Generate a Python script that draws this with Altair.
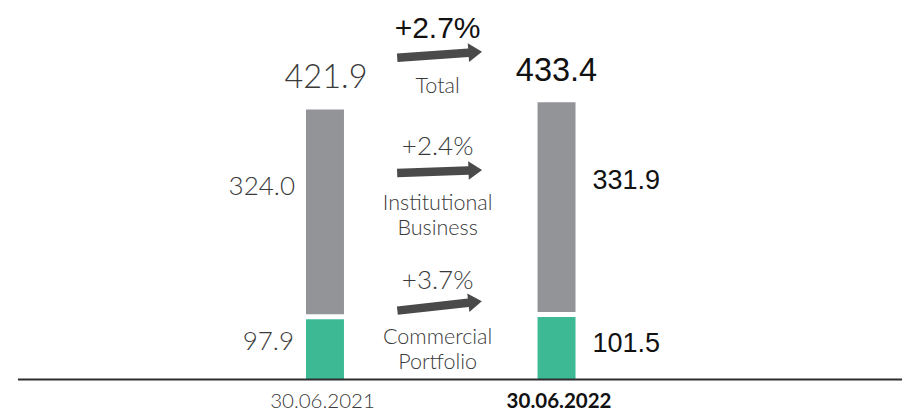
import altair as alt
import pandas as pd

# ---------------- data ----------------
dates = ["30.06.2021", "30.06.2022"]
commercial = [97.9, 101.5]
institutional = [324.0, 331.9]
totals = [421.9, 433.4]
growth = ["+2.7%", "+2.4%", "+3.7%"]
segments = ["Total", "Institutional\nBusiness", "Commercial\nPortfolio"]

# ---------------- layout ----------------
W, H = 894, 404
POS = [0, 1]                    # bar slots on the x scale
HALF = 0.082                    # half bar width (x units)
X_DOMAIN = [-1.369, 2.492]
Y_DOMAIN = [-50.78, 580.5]
LINE_START = -1.326
ARROW_X = 0.495
ARROW_Y = [507.5, 325, 115]     # vertical placement of the three change arrows
ARROW_ANGLE = [356, 358, 353.6]
ARROW = "M-1,-0.1L0.68,-0.1L0.68,-0.22L1,0L0.68,0.22L0.68,0.1L-1,0.1Z"

GRAY = "#939498"
GREEN = "#3dba94"
DARK = "#3a3a3a"

xs = alt.Scale(domain=X_DOMAIN, nice=False, zero=False)
ys = alt.Scale(domain=Y_DOMAIN, nice=False, zero=False)

rows = []
for i, p in enumerate(POS):
    rows.append(dict(pos=p, xl=p - HALF, xr=p + HALF, y0=0, y1=commercial[i], seg="Commercial"))
    rows.append(dict(pos=p, xl=p - HALF, xr=p + HALF, y0=commercial[i], y1=totals[i], seg="Institutional"))
bars_df = pd.DataFrame(rows)

bars = alt.Chart(bars_df).mark_rect().encode(
    x=alt.X("xl:Q", scale=xs, axis=None),
    x2="xr:Q",
    y=alt.Y("y0:Q", scale=ys, axis=None),
    y2="y1:Q",
    color=alt.Color("seg:N", scale=alt.Scale(domain=["Commercial", "Institutional"], range=[GREEN, GRAY]), legend=None),
)

gap_df = pd.DataFrame(dict(xl=[p - HALF - 0.01 for p in POS], xr=[p + HALF + 0.01 for p in POS], y=commercial))
gaps = alt.Chart(gap_df).mark_rule(color="white", strokeWidth=5).encode(
    x=alt.X("xl:Q", scale=xs, axis=None), x2="xr:Q", y=alt.Y("y:Q", scale=ys, axis=None)
)

base_df = pd.DataFrame(dict(x=[LINE_START], x2=[X_DOMAIN[1]], y=[0]))
baseline = alt.Chart(base_df).mark_rule(color="#2e2e2e", strokeWidth=2).encode(
    x=alt.X("x:Q", scale=xs, axis=None), x2="x2:Q", y=alt.Y("y:Q", scale=ys, axis=None)
)

arrow_df = pd.DataFrame(dict(x=[ARROW_X] * 3, y=ARROW_Y, ang=ARROW_ANGLE, g=growth, s=segments))
arrows = alt.Chart(arrow_df).mark_point(
    shape=ARROW, filled=True, size=7225, color="#4a4a4a", opacity=1, strokeWidth=0
).encode(
    x=alt.X("x:Q", scale=xs, axis=None),
    y=alt.Y("y:Q", scale=ys, axis=None),
    angle=alt.Angle("ang:Q", scale=None),
)


def txt(df, xcol, ycol, tcol, **kw):
    return alt.Chart(df).mark_text(**kw).encode(
        x=alt.X(f"{xcol}:Q", scale=xs, axis=None),
        y=alt.Y(f"{ycol}:Q", scale=ys, axis=None),
        text=f"{tcol}:N",
    )


first = arrow_df.iloc[[0]]
rest = arrow_df.iloc[1:]
g_total = txt(first, "x", "y", "g", font="Liberation Sans", fontSize=30, color="#111",
              baseline="alphabetic", dy=-16.5, dx=-2)
g_rest = txt(rest, "x", "y", "g", font="Lato", fontWeight=300, fontSize=26, color=DARK,
             baseline="alphabetic", dy=-16.5, dx=-2)
seg_lbl = txt(arrow_df, "x", "y", "s", font="Lato", fontWeight=300, fontSize=21.5, color=DARK,
              baseline="alphabetic", dy=38.5, dx=-2, lineBreak="\n", lineHeight=25)

lab_df = pd.DataFrame(dict(
    pos=POS,
    total=totals,
    gmid=[c + i / 2 for c, i in zip(commercial, institutional)],
    cmid=[c / 2 for c in commercial],
    tl=[f"{v:.1f}" for v in totals],
    il=[f"{v:.1f}" for v in institutional],
    cl=[f"{v:.1f}" for v in commercial],
    d=dates,
    zero=[0, 0],
))
l21 = lab_df.iloc[[0]]
l22 = lab_df.iloc[[1]]

light = dict(font="Lato", fontWeight=300, color=DARK, baseline="alphabetic")
sans = dict(font="Liberation Sans", color="#111", baseline="alphabetic")

layers = [
    bars, gaps, baseline, arrows, g_total, g_rest, seg_lbl,
    txt(l21, "pos", "total", "tl", fontSize=32.5, dy=-21, dx=1, **light),
    txt(l22, "pos", "total", "tl", fontSize=32.5, dy=-21, **sans),
    txt(l21, "pos", "gmid", "il", fontSize=26, align="right", dx=-30, dy=-18, **light),
    txt(l22, "pos", "gmid", "il", fontSize=27, align="left", dx=36, dy=-19, **sans),
    txt(l21, "pos", "cmid", "cl", fontSize=26, align="right", dx=-31, dy=1.5, **light),
    txt(l22, "pos", "cmid", "cl", fontSize=27, align="left", dx=36, dy=5, **sans),
    txt(l21, "pos", "zero", "d", fontSize=20.5, dx=-2.5, dy=28, **light),
    txt(l22, "pos", "zero", "d", font="Lato", fontWeight="bold", fontSize=20.5, color="#111",
        baseline="alphabetic", dx=2.5, dy=28),
]

chart = alt.layer(*layers).properties(
    width=W, height=H, padding=0, autosize=alt.AutoSizeParams(type="none")
).configure_view(stroke=None)

chart.save("out.html", embed_options={"renderer": "svg", "actions": False})
